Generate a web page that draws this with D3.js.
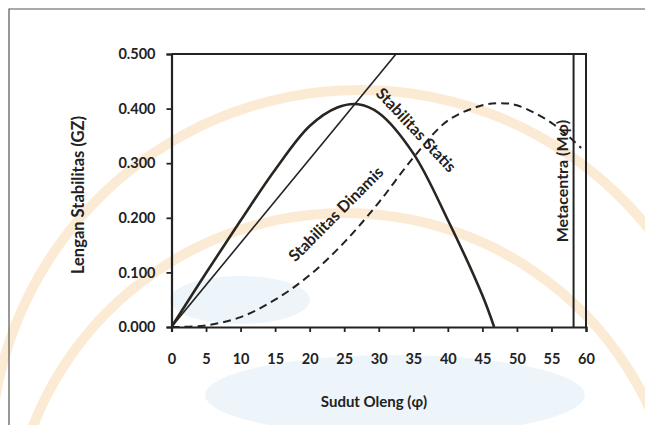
<!DOCTYPE html>
<html>
<head>
<meta charset="utf-8">
<script src="https://cdn.jsdelivr.net/npm/d3@7"></script>
<style>
  body { margin: 0; background: #fff; }
  svg { display: block; font-family: Lato, "Open Sans", sans-serif; }
</style>
</head>
<body>
<div id="chart"></div>
<script>
// Sudut oleng (derajat) dan lengan stabilitas GZ (m)
const statisAngles = [0, 5, 10, 15, 20, 24, 27, 30, 35, 40, 45, 46.7];
const statisValues = [0, 0.099, 0.195, 0.288, 0.368, 0.402, 0.408, 0.392, 0.318, 0.196, 0.058, 0];

const dinamisAngles = [0, 5, 10, 15, 20, 25, 30, 35, 40, 45, 47.5, 50, 55, 59.3];
const dinamisValues = [0, 0.003, 0.018, 0.05, 0.095, 0.155, 0.228, 0.31, 0.378, 0.406, 0.41, 0.406, 0.374, 0.328];

// garis GM dari titik nol
const gmAngles = [0, 32.5];
const gmValues = [0, 0.5];

const metacentraAngle = 58.2;

const xTicks = [0, 5, 10, 15, 20, 25, 30, 35, 40, 45, 50, 55, 60];
const yTicks = [0, 0.1, 0.2, 0.3, 0.4, 0.5];

const width = 645, height = 425;
const svg = d3.select('#chart').append('svg').attr('width', width).attr('height', height);

// watermark samar di belakang grafik
const wm = svg.append('g').attr('class', 'watermark');
[
  { cx: 360, cy: 460, r: 370 },
  { cx: 345, cy: 548, r: 335 }
].forEach(a => {
  wm.append('path')
    .attr('d', d3.arc()({ innerRadius: a.r - 5, outerRadius: a.r + 5, startAngle: -1.6, endAngle: 1.6 }))
    .attr('transform', `translate(${a.cx},${a.cy})`)
    .attr('fill', '#fbe4c6')
    .attr('opacity', 0.75);
});
wm.append('ellipse')
  .attr('cx', 395).attr('cy', 395).attr('rx', 190).attr('ry', 40)
  .attr('fill', '#eef5fa');
wm.append('ellipse')
  .attr('cx', 240).attr('cy', 300).attr('rx', 70).attr('ry', 24)
  .attr('fill', '#eef5fa');

// bingkai luar
svg.append('path')
  .attr('d', `M9,${height} V9 H${width}`)
  .attr('fill', 'none')
  .attr('stroke', '#555')
  .attr('stroke-width', 1.2);

const x = d3.scaleLinear().domain([0, 60]).range([171.5, 586]);
const y = d3.scaleLinear().domain([0, 0.5]).range([327, 54]);

const plot = svg.append('g');

// bingkai area plot (atas & kanan)
plot.append('path')
  .attr('d', `M${x(0)},${y(0.5)} H${x(60)} V${y(0)}`)
  .attr('fill', 'none')
  .attr('stroke', '#222')
  .attr('stroke-width', 2);

svg.append('clipPath').attr('id', 'clip')
  .append('rect')
  .attr('x', x(0)).attr('y', y(0.5))
  .attr('width', x(60) - x(0)).attr('height', y(0) - y(0.5));

const line = d3.line().x(d => x(d[0])).y(d => y(d[1]));

const curves = plot.append('g').attr('clip-path', 'url(#clip)');

curves.append('path')
  .datum(d3.zip(gmAngles, gmValues))
  .attr('d', line)
  .attr('fill', 'none')
  .attr('stroke', '#222')
  .attr('stroke-width', 1.6);

curves.append('path')
  .datum(d3.zip(dinamisAngles, dinamisValues))
  .attr('d', line.curve(d3.curveCatmullRom.alpha(0.5)))
  .attr('fill', 'none')
  .attr('stroke', '#222')
  .attr('stroke-width', 2)
  .attr('stroke-dasharray', '8,5');

curves.append('path')
  .datum(d3.zip(statisAngles, statisValues))
  .attr('d', line.curve(d3.curveCatmullRom.alpha(0.5)))
  .attr('fill', 'none')
  .attr('stroke', '#2a2520')
  .attr('stroke-width', 2.6);

curves.append('line')
  .attr('x1', x(metacentraAngle)).attr('x2', x(metacentraAngle))
  .attr('y1', y(0)).attr('y2', y(0.5))
  .attr('stroke', '#222')
  .attr('stroke-width', 2);

// sumbu
const xAxis = plot.append('g')
  .attr('transform', `translate(0,${y(0)})`)
  .call(d3.axisBottom(x).tickValues(xTicks).tickSize(5).tickPadding(22).tickFormat(d3.format('d')));
const yAxis = plot.append('g')
  .attr('transform', `translate(${x(0)},0)`)
  .call(d3.axisLeft(y).tickValues(yTicks).tickSize(5).tickPadding(11).tickFormat(d3.format('.3f')));

[xAxis, yAxis].forEach(ax => {
  ax.select('.domain').attr('stroke', '#222').attr('stroke-width', 2.2);
  ax.selectAll('.tick line').attr('stroke', '#222').attr('stroke-width', 1.8);
  ax.selectAll('.tick text')
    .attr('fill', '#222')
    .style('font-family', 'Lato, sans-serif')
    .style('font-size', '14.5px')
    .style('font-weight', 'bold');
});

// judul sumbu
svg.append('text')
  .attr('x', 374).attr('y', 407)
  .attr('text-anchor', 'middle')
  .attr('fill', '#222')
  .style('font-size', '15px').style('font-weight', 'bold')
  .text('Sudut Oleng (φ)');

svg.append('text')
  .attr('transform', 'translate(84,195) rotate(-90)')
  .attr('text-anchor', 'middle')
  .attr('fill', '#222')
  .style('font-size', '16.5px').style('font-weight', 'bold')
  .text('Lengan Stabilitas (GZ)');

// label kurva
const curveLabel = (text, px, py, angle) => svg.append('text')
  .attr('transform', `translate(${px},${py}) rotate(${angle})`)
  .attr('text-anchor', 'middle')
  .attr('dominant-baseline', 'middle')
  .attr('fill', '#222')
  .style('font-size', '16px').style('font-weight', 'bold')
  .text(text);

curveLabel('Stabilitas Statis', 415, 131, 47);
curveLabel('Stabilitas Dinamis', 337, 215, -45);
curveLabel('Metacentra (Mφ)', 564, 181, -90);
</script>
</body>
</html>
